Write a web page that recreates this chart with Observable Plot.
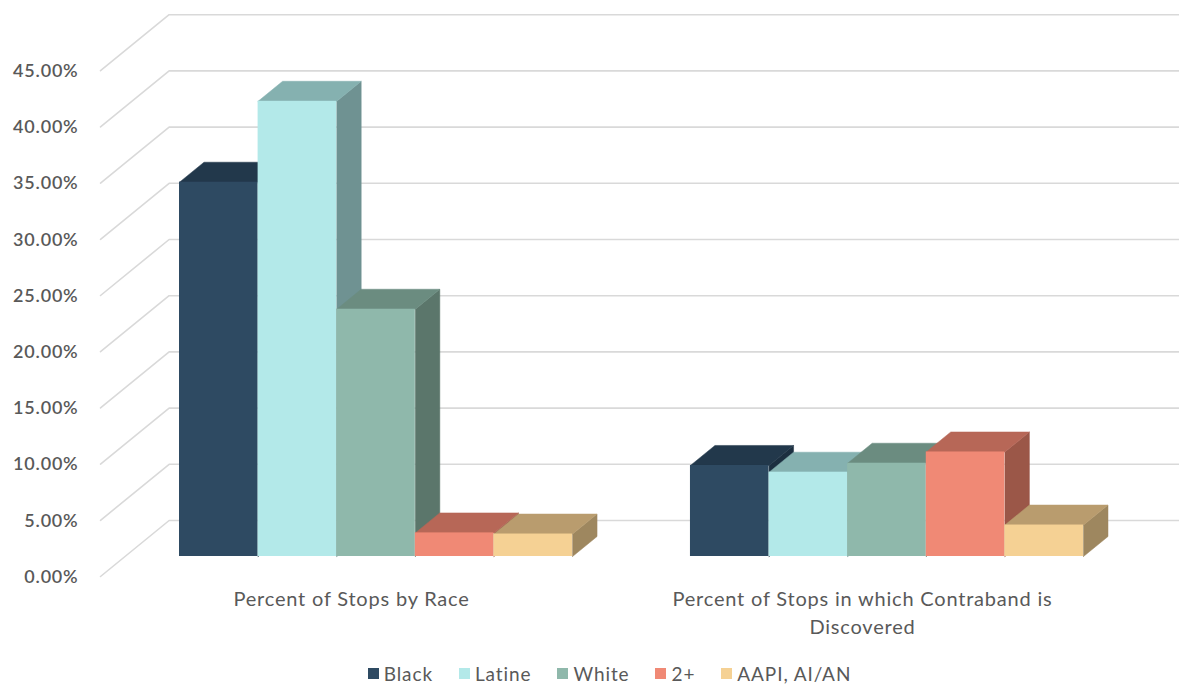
<!DOCTYPE html>
<html>
<head>
<meta charset="utf-8">
<script src="https://cdn.jsdelivr.net/npm/d3@7"></script>
<script src="https://cdn.jsdelivr.net/npm/@observablehq/plot@0.6"></script>
<style>
  html, body { margin: 0; padding: 0; background: #fff; overflow: hidden; }
  #chart { width: 1179px; height: 656px; }
  #chart svg text { letter-spacing: 0.8px; }
  #legend { height: 29px; }
  #legend > div {
    min-height: 0 !important; margin: 0 !important; height: 23px; padding-top: 6px;
    line-height: 23px; justify-content: center; padding-left: 66px;
    font-family: "Gill Sans", "Gill Sans MT", Lato, sans-serif !important;
    font-size: 19px !important; letter-spacing: 0.9px; color: #595959 !important;
  }
  #legend > div > span { margin-right: 26px !important; line-height: 23px; }
  #legend > div > span > svg { margin-right: 5px !important; }
</style>
</head>
<body>
<div id="chart"></div>
<div id="legend"></div>
<script>
// ---- data ----
const groups = ["Percent of Stops by Race", "Percent of Stops in which Contraband is\nDiscovered"];
const races = ["Black", "Latine", "White", "2+", "AAPI, AI/AN"];
const stopsByRace = [33.3, 40.5, 22.0, 2.1, 2.0];
const contrabandFound = [8.1, 7.5, 8.3, 9.3, 2.8];
const yTicks = [0, 5, 10, 15, 20, 25, 30, 35, 40, 45];
const frontColors = ["#2E4A62", "#B3E9E9", "#8FB8AB", "#F08975", "#F5D194"];
const topColors   = ["#22384B", "#85B1B0", "#6B8C80", "#B76757", "#B99C6E"];
const sideColors  = ["#1C2F40", "#6F9292", "#5B766B", "#9B5748", "#9E875F"];

// ---- layout / projection ----
const W = 1179, H = 656;
const xDomain = [0, 11.5], xRange = [179, 1083];
const yDomain = [0, 45], yRange = [556, 50.2];
const barPx = (xRange[1] - xRange[0]) / (xDomain[1] - xDomain[0]);
const pctPx = (yRange[0] - yRange[1]) / (yDomain[1] - yDomain[0]);
const AX = 24.5 / barPx, AY = 20 / pctPx;     // oblique depth offset per depth unit
const ZF = -1, ZB = 1.8;                       // front plane, back wall
const WL = -0.693, WR = 12.19;                 // wall left/right (bar plane units)
const groupStep = 6.5;
const P = (x, y, z) => ({x: x + z * AX, y: y + z * AY});

const series = [stopsByRace, contrabandFound];
const bars = [];
series.forEach((vals, g) => vals.forEach((v, b) => {
  const x0 = g * groupStep + b;
  bars.push({id: `${g}-${b}`, g, b, v, x0, x1: x0 + 1});
}));

const grid = yTicks.flatMap(t =>
  [P(WL, t, ZF), P(WL, t, ZB), P(WR, t, ZB)].map(p => ({...p, t})));

const sides = bars.flatMap(d =>
  [P(d.x1, 0, 0), P(d.x1, d.v, 0), P(d.x1, d.v, 1), P(d.x1, 0, 1), P(d.x1, 0, 0)]
    .map(p => ({...p, id: d.id, c: sideColors[d.b]})));
const tops = bars.flatMap(d =>
  [P(d.x0, d.v, 0), P(d.x1, d.v, 0), P(d.x1, d.v, 1), P(d.x0, d.v, 1), P(d.x0, d.v, 0)]
    .map(p => ({...p, id: d.id, c: topColors[d.b]})));

const tickLabels = yTicks.map(t => ({...P(WL, t, ZF), label: t.toFixed(2) + "%"}));
const catLabels = groups.map((name, g) => ({...P(g * groupStep + 2.5, 0, ZF), name}));

const plot = Plot.plot({
  width: W, height: H,
  x: {domain: xDomain, range: xRange, axis: null},
  y: {domain: yDomain, range: yRange, axis: null},
  color: {type: "identity"},
  style: {fontFamily: "'Gill Sans', 'Gill Sans MT', Lato, sans-serif", background: "#fff"},
  marks: [
    Plot.line(grid, {x: "x", y: "y", z: "t", stroke: "#d9d9d9", strokeWidth: 1.6}),
    Plot.line(sides, {x: "x", y: "y", z: "id", fill: "c", stroke: "c", strokeWidth: 0.5}),
    Plot.line(tops, {x: "x", y: "y", z: "id", fill: "c", stroke: "c", strokeWidth: 0.5}),
    Plot.rect(bars, {x1: "x0", x2: "x1", y1: 0, y2: "v", fill: d => frontColors[d.b]}),
    Plot.text(tickLabels, {x: "x", y: "y", text: "label", textAnchor: "end", dx: -22, dy: 0.5,
      fontSize: 18, fontWeight: 600, fill: "#595959"}),
    Plot.text(catLabels, {x: "x", y: "y", text: "name", lineAnchor: "top", dy: 10,
      lineHeight: 1.4, fontSize: 20, fill: "#595959"})
  ]
});
document.getElementById("chart").appendChild(plot);

const legend = Plot.legend({
  color: {type: "ordinal", domain: races, range: frontColors},
  swatchSize: 11
});
document.getElementById("legend").appendChild(legend);
</script>
</body>
</html>
